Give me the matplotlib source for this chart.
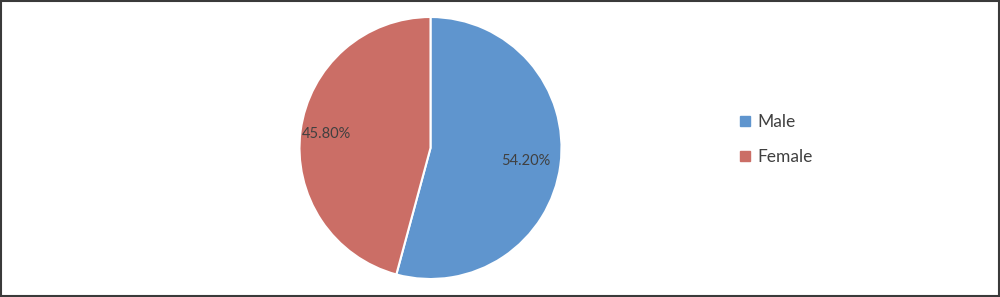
import matplotlib
matplotlib.use("Agg")
import numpy as np
import matplotlib.pyplot as plt
from matplotlib.lines import Line2D
from matplotlib.patches import Rectangle

# data
labels = ["Male", "Female"]
shares = [54.2, 45.8]
colors = ["#5F95CE", "#CB6E66"]
label_dist = [0.73, 0.80]  # how far out each percent label sits

plt.rcParams['font.family'] = ['Lato', 'DejaVu Sans']

fig = plt.figure(figsize=(10, 2.97), dpi=100)

# pie axes sized so radius is ~130 px, centre at (430, 147)
ax = fig.add_axes([0.2995, 18 / 297, 0.262, 262 / 297])
wedges, texts, autotexts = ax.pie(
    shares, colors=colors, startangle=90, counterclock=False,
    autopct="%.2f%%", pctdistance=0.76,
    wedgeprops=dict(edgecolor="white", linewidth=1.5),
    textprops=dict(color="#404040", fontsize=10.5),
)
# nudge labels to match reference
for w, t, d in zip(wedges, autotexts, label_dist):
    ang = np.deg2rad((w.theta1 + w.theta2) / 2)
    t.set_position((d * np.cos(ang), d * np.sin(ang)))

ax.set_xlim(-1, 1)
ax.set_ylim(-1, 1)
ax.set_aspect("equal")
ax.axis("off")

# legend with square markers
handles = [Line2D([0], [0], marker="s", linestyle="none", markersize=7,
                  markerfacecolor=c, markeredgecolor=c) for c in colors]
fig.legend(handles, labels, loc="center left", bbox_to_anchor=(0.722, 0.53),
           frameon=False, fontsize=12.5, handlelength=0.8, handletextpad=0.35,
           labelspacing=1.05, labelcolor="#404040")

# outer border
fig.patches.append(Rectangle((0.001, 0.002), 0.998, 0.995, transform=fig.transFigure,
                             fill=False, edgecolor="#3a3a3a", linewidth=1.5))

fig.savefig("out.png", dpi=100)
